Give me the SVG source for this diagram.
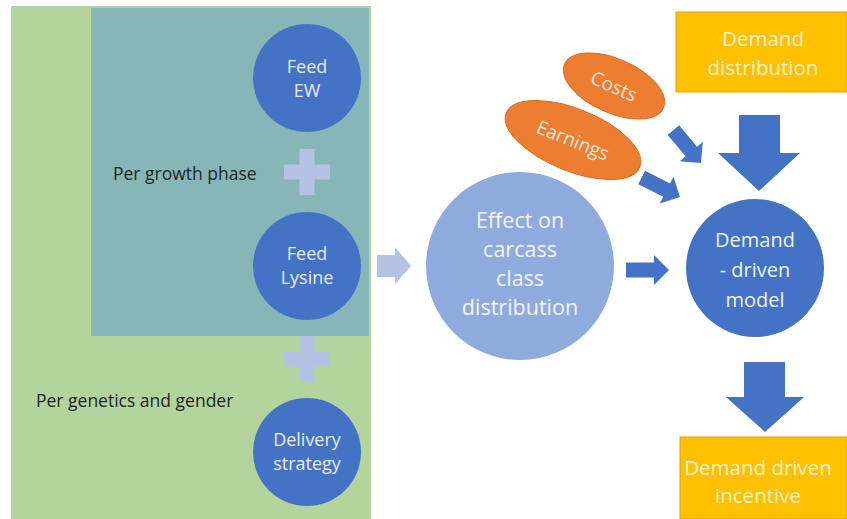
<svg xmlns="http://www.w3.org/2000/svg" xmlns:xlink="http://www.w3.org/1999/xlink" width="847" height="519" viewBox="0 0 847 519">
  <style>
    .lbl { font-family: "Open Sans", "Liberation Sans", sans-serif; text-anchor: middle; }
    .dark { font-family: "Open Sans", "Liberation Sans", sans-serif; fill: #1c2626; font-size: 17.5px; }
    .node { fill: #4472c4; }
    .small { fill: #e6ecf7; font-size: 18px; }
    .big { fill: #eef2fa; font-size: 20px; }
    .eff { fill: #f2f5fb; font-size: 21.5px; }
    .yl { fill: #ffc000; stroke: #dba400; stroke-width: 1; }
    .yt { fill: #fff2cc; font-size: 20.5px; }
    .or { fill: #ed7d31; stroke: #d86c22; stroke-width: 1; }
    .ot { fill: #fde8d8; font-size: 19px; }
    .arrow { fill: #4472c4; }
    .light { fill: #b4c3e3; }
  </style>
  <defs>
    <path id="plus" d="M-7.5,-23 H7.5 V-7.5 H23 V7.5 H7.5 V23 H-7.5 V7.5 H-23 V-7.5 H-7.5 Z"/>
    <!-- small block arrow, tip at origin pointing +x -->
    <path id="blk" d="M-43,-7.5 H-15 V-15 L0,0 L-15,15 V7.5 H-43 Z"/>
  </defs>

  <rect width="847" height="519" fill="#ffffff"/>

  <!-- grouping panels -->
  <g id="panel-genetics">
    <rect x="11" y="6" width="360" height="513" fill="#b4d49e"/>
    <text class="dark" x="36" y="407">Per genetics and gender</text>
  </g>
  <g id="panel-growth">
    <rect x="91" y="8" width="278" height="328" fill="#87b6b9"/>
    <text class="dark" x="113" y="180">Per growth phase</text>
  </g>

  <!-- connectors -->
  <g id="connectors">
    <use href="#plus" class="light" x="307" y="172"/>
    <use href="#plus" class="light" x="307" y="359"/>
    <path class="light" d="M377,255 H395 V247 L411,266 L395,284 V277 H377 Z"/>
    <use href="#blk" class="arrow" transform="translate(669,270)"/>
    <use href="#blk" class="arrow" transform="translate(701,163) rotate(50)"/>
    <use href="#blk" class="arrow" transform="translate(680,197) rotate(27)"/>
    <path class="arrow" d="M739,115 H780 V153 H800 L759,191 L718,153 H739 Z"/>
    <path class="arrow" d="M744,362 H785 V397 H804 L765,432 L726,397 H744 Z"/>
  </g>

  <g id="feed-ew">
    <circle class="node" cx="307" cy="78" r="54"/>
    <text class="lbl small" x="307" y="73">Feed</text>
    <text class="lbl small" x="307" y="97">EW</text>
  </g>
  <g id="feed-lysine">
    <circle class="node" cx="307" cy="266" r="54"/>
    <text class="lbl small" x="307" y="260">Feed</text>
    <text class="lbl small" x="307" y="284">Lysine</text>
  </g>
  <g id="delivery-strategy">
    <circle class="node" cx="307" cy="452" r="54"/>
    <text class="lbl small" x="307" y="446">Delivery</text>
    <text class="lbl small" x="307" y="470">strategy</text>
  </g>

  <g id="effect">
    <circle cx="520" cy="266" r="94" fill="#8faadc"/>
    <text class="lbl eff" x="520" y="228">Effect on</text>
    <text class="lbl eff" x="520" y="257">carcass</text>
    <text class="lbl eff" x="520" y="286">class</text>
    <text class="lbl eff" x="520" y="315">distribution</text>
  </g>

  <g id="costs">
    <ellipse class="or" cx="614" cy="86" rx="54" ry="27" transform="rotate(24 614 86)"/>
    <text class="lbl ot" x="614" y="93" transform="rotate(24 614 86)">Costs</text>
  </g>
  <g id="earnings">
    <ellipse class="or" cx="573" cy="140" rx="72" ry="31" transform="rotate(22 573 140)"/>
    <text class="lbl ot" x="573" y="147" transform="rotate(22 573 140)">Earnings</text>
  </g>

  <g id="demand-distribution">
    <rect class="yl" x="676" y="12" width="171" height="80"/>
    <text class="lbl yt" x="763" y="46">Demand</text>
    <text class="lbl yt" x="763" y="75">distribution</text>
  </g>

  <g id="demand-model">
    <circle class="node" cx="755" cy="268" r="69"/>
    <text class="lbl big" x="755" y="247">Demand</text>
    <text class="lbl big" x="755" y="277">- driven</text>
    <text class="lbl big" x="755" y="307">model</text>
  </g>

  <g id="demand-incentive">
    <rect class="yl" x="680" y="437" width="167" height="82"/>
    <text class="lbl yt" x="758" y="475">Demand driven</text>
    <text class="lbl yt" x="758" y="503">incentive</text>
  </g>
</svg>
